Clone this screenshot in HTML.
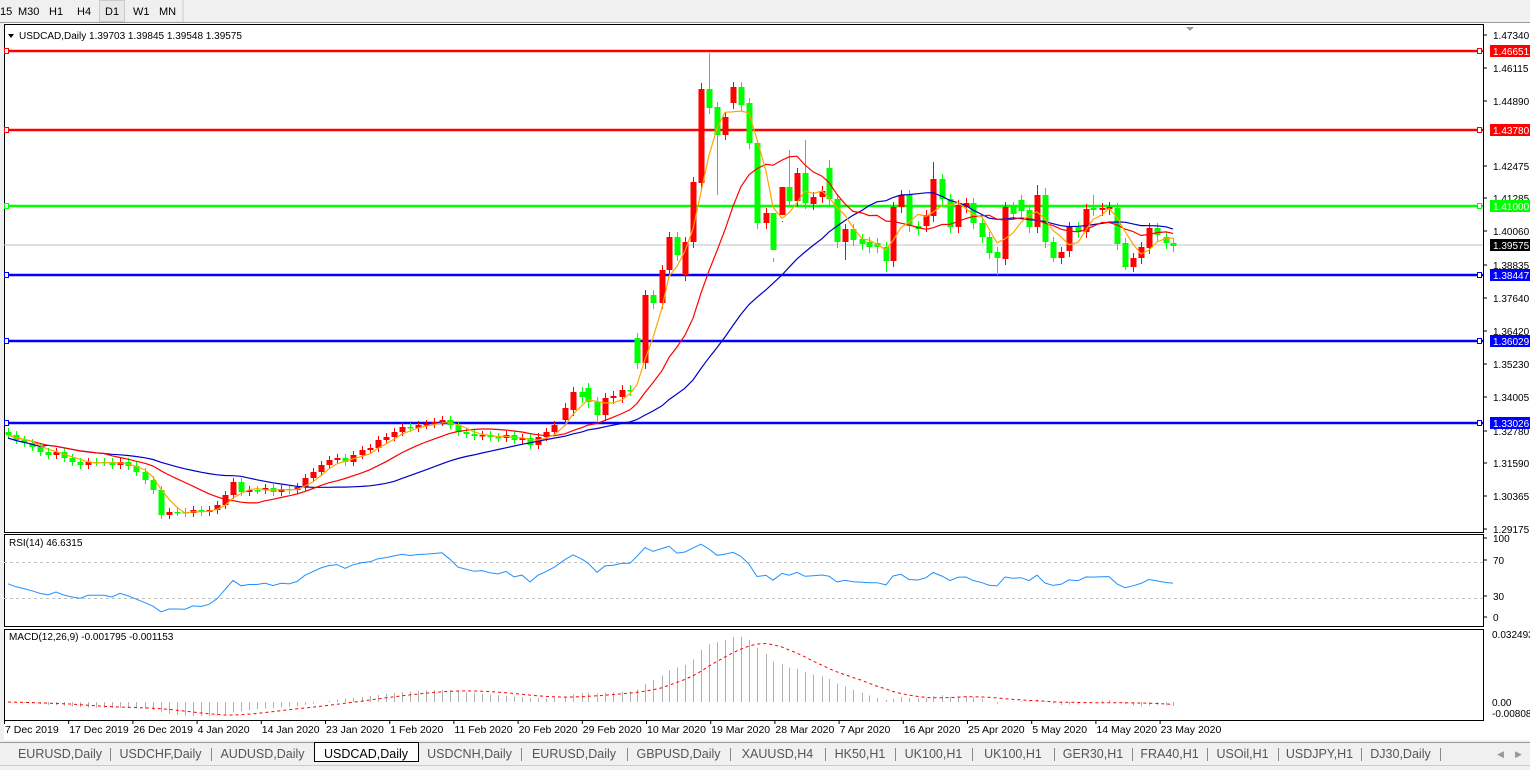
<!DOCTYPE html>
<html><head><meta charset="utf-8"><style>
body{margin:0;width:1530px;height:770px;overflow:hidden;background:#f0f0f0;font-family:"Liberation Sans",sans-serif;}
svg{position:absolute;left:0;top:0}
</style></head><body>
<svg id="s" width="1530" height="770" xmlns="http://www.w3.org/2000/svg" font-family="Liberation Sans, sans-serif" font-size="11">
<rect x="0" y="0" width="1530" height="770" fill="#f0f0f0"/>
<rect x="4" y="23" width="1526" height="717" fill="#fff"/>
<g font-size="11" fill="#000">
<text x="0" y="15">15</text><text x="18" y="15">M30</text><text x="49" y="15">H1</text><text x="77" y="15">H4</text>
<rect x="99.5" y="0.5" width="25" height="21" fill="#e8e8e8" stroke="#ccc"/><text x="105" y="15">D1</text>
<text x="133" y="15">W1</text><text x="159" y="15">MN</text>
<line x1="183" y1="0" x2="183" y2="22" stroke="#ccc"/>
</g>
<line x1="0" y1="22.5" x2="1530" y2="22.5" stroke="#999"/>
<g id="g"></g>
</svg>
<script>
var NS="http://www.w3.org/2000/svg",G=document.getElementById("g");
function el(t,a,txt){var e=document.createElementNS(NS,t);for(var k in a)e.setAttribute(k,a[k]);if(txt!==undefined)e.textContent=txt;G.appendChild(e);return e;}
var R=1483;
[[4,24,532],[4,534,626],[4,629,720]].forEach(function(p){el("rect",{x:p[0]+.5,y:p[1]+.5,width:R-p[0],height:p[2]-p[1],fill:"none",stroke:"#000"});});
var early=[[8,435],[16,440],[24,443],[32,447],[40,452],[48,455],[56,452],[64,458],[72,462],[80,465],[88,462],[96,462],[104,462],[112,465],[120,462],[128,466],[136,472],[145,480],[153,490],[161,515],[169,512],[177,512],[185,513],[193,510],[201,512],[209,510],[217,505],[225,495],[233,482],[241,492],[249,490],[257,490],[265,488],[273,492],[281,489],[289,490],[297,487],[305,478],[313,472],[321,465],[329,460],[337,458],[345,462],[353,455],[362,450],[370,448],[378,440],[386,437],[394,432],[402,427],[410,428],[418,425],[426,424],[434,422],[442,420],[450,425],[458,432],[466,434],[474,436],[482,435],[490,437],[498,438],[506,435],[514,440],[522,438],[530,445],[538,437],[546,432],[554,425]];
var C=[];var prev=432;
early.forEach(function(e){C.push([e[0],prev,e[1],Math.min(prev,e[1])-4,Math.max(prev,e[1])+4]);prev=e[1];});
var M=[[565,420,408],[573,410,392],[582,392,397],[588,388,402],[597,402,415],[605,415,398],[613,398,396],[622,397,390],[630,390,390],[637,338,363],[645,363,295],[653,295,303],[662,303,270],[669,270,237],[677,237,255],[685,275,242],[693,242,182],[701,183,89],[709,89,108],[717,107,135],[725,135,117],[733,103,87],[741,87,105],[749,103,143],[757,143,223],[766,223,213],[773,213,250],[782,215,187],[789,187,201],[797,201,173],[805,173,203],[813,204,197],[822,197,191],[829,168,199],[837,199,242],[845,242,229],[853,229,240],[862,239,244],[869,242,247],[877,243,247],[886,247,261],[893,261,207],[901,207,195],[909,195,226],[918,226,229],[926,226,215],[933,216,179],[942,179,199],[950,199,227],[958,227,205],[966,207,203],[973,203,223],[982,223,237],[989,237,253],[997,252,258],[1005,259,207],[1013,207,214],[1021,200,211],[1029,210,227],[1037,227,195],[1045,195,242],[1053,242,258],[1061,258,252],[1069,251,227],[1078,227,232],[1086,232,209],[1093,208,210],[1102,210,208],[1109,209,207],[1117,208,244],[1125,243,267],[1133,267,258],[1141,258,247],[1149,248,228],[1157,228,235],[1166,237,243],[1173,243,246]];
var HW={709:53,701:83,757:140,789:150,805:140,773:258,782:222,829:160,933:162,1037:185,1093:195,1045:188};
var LW={717:195,725:140,773:262,845:260,886:272,997:275,1125:270,1133:272,1053:262};
M.forEach(function(m){var hi=HW[m[0]]||Math.min(m[1],m[2])-5,lo=LW[m[0]]||Math.max(m[1],m[2])+6;C.push([m[0],m[1],m[2],hi,lo]);});
function hl(y,c,w){el("line",{x1:4,y1:y,x2:R,y2:y,stroke:c,"stroke-width":w});}
hl(245,"#c0c0c0",1);
[[51,"#f00"],[130,"#f00"],[206,"#0f0"],[275,"#00f"],[341,"#00f"],[423,"#00f"]].forEach(function(l){hl(l[0],l[1],2.5);el("rect",{x:4.5,y:l[0]-2.5,width:4,height:5,fill:"#fff",stroke:l[1]});el("rect",{x:R-5.5,y:l[0]-2.5,width:4,height:5,fill:"#fff",stroke:l[1]});});
C.forEach(function(c){var x=c[0],o=c[1],cl=c[2];var col=cl<o?"#f00":"#0f0";
el("line",{x1:x+.5,y1:c[3],x2:x+.5,y2:c[4],stroke:col,"stroke-width":1});
var t=Math.min(o,cl),h=Math.max(Math.abs(o-cl),1.5);el("rect",{x:x-2.5,y:t,width:6,height:h,fill:col});});
var ys=C.map(function(c){return c[2];}),xs=C.map(function(c){return c[0];});
function sma(n){return ys.map(function(v,i){var s=0,k=0;for(var j=Math.max(0,i-n+1);j<=i;j++){s+=ys[j];k++;}return s/k;});}
function poly(xa,ya,col,w,extra){var p=xa.map(function(x,i){return x+","+ya[i].toFixed(1);}).join(" ");var a={points:p,fill:"none",stroke:col,"stroke-width":w};for(var k in extra)a[k]=extra[k];el("polyline",a);}
var m30=sma(30).map(function(v,i){return i<5?v+3:v;});
poly(xs,m30,"#0000c8",1.2);poly(xs,sma(13),"#f00",1.2);poly(xs,sma(4),"#ffa500",1.2);
var rs=[];var ag=2.2,al=2.6,n=14;
for(var i=0;i<ys.length;i++){var d=i?ys[i-1]-ys[i]:0;var g=Math.max(d,0),l=Math.max(-d,0);if(i>0){ag=(ag*(n-1)+g)/n;al=(al*(n-1)+l)/n;}rs.push(100-100/(1+ag/al));}
el("line",{x1:4,y1:562.5,x2:R,y2:562.5,stroke:"#c0c0c0","stroke-dasharray":"3,3"});
el("line",{x1:4,y1:598.5,x2:R,y2:598.5,stroke:"#c0c0c0","stroke-dasharray":"3,3"});
poly(xs,rs.map(function(v){return 625-v*0.9;}),"#1e90ff",1);
var p=ys.map(function(v){return -v;});function ema(a,k){var o=[],e=a[0],al=2/(k+1);a.forEach(function(v){e=e+al*(v-e);o.push(e);});return o;}
var e12=ema(p,12),e26=ema(p,26);var md=e12.map(function(v,i){return v-e26[i];});
var sg=md.map(function(v,i){var s=0,k=0;for(var j=Math.max(0,i-8);j<=i;j++){s+=md[j];k++;}return s/k;});
var sc=69/88;
md.forEach(function(v,i){el("line",{x1:xs[i]+.5,y1:702,x2:xs[i]+.5,y2:702-v*sc,stroke:"#b0b0b0","stroke-width":1});});
poly(xs,sg.map(function(v){return 702-v*sc;}),"#f00",1,{"stroke-dasharray":"3,3"});
el("path",{d:"M8 34 L14 34 L11 38 Z",fill:"#000"});
el("text",{x:19,y:39,"font-size":"10"},"USDCAD,Daily  1.39703 1.39845 1.39548 1.39575");
el("text",{x:9,y:546,"font-size":"10"},"RSI(14) 46.6315");
el("text",{x:9,y:640,"font-size":"10"},"MACD(12,26,9) -0.001795 -0.001153");
el("path",{d:"M1186 27 L1194 27 L1190 31 Z",fill:"#999"});
[["1.47340",35],["1.46115",68],["1.44890",101],["1.42475",166],["1.41285",198],["1.40060",231],["1.38835",265],["1.37640",298],["1.36420",331],["1.35230",364],["1.34005",397],["1.32780",431],["1.31590",463],["1.30365",496],["1.29175",529]].forEach(function(t){el("line",{x1:R,y1:t[1],x2:R+4,y2:t[1],stroke:"#000"});el("text",{x:1493,y:t[1]+4,"font-size":"10"},t[0]);});
[["1.46651",51,"#f00","#fff"],["1.43780",130,"#f00","#fff"],["1.41000",206,"#0f0","#fff"],["1.39575",245,"#000","#fff"],["1.38447",275,"#00f","#fff"],["1.36029",341,"#00f","#fff"],["1.33026",423,"#00f","#fff"]].forEach(function(t){el("rect",{x:1490,y:t[1]-6,width:40,height:12,fill:t[2]});el("text",{x:1493,y:t[1]+4,"font-size":"10",fill:t[3]},t[0]);});
[["100",541],["70",563],["30",599],["0",620]].forEach(function(t){el("line",{x1:R,y1:t[1]-3,x2:R+4,y2:t[1]-3,stroke:"#000"});el("text",{x:1493,y:t[1]+1,"font-size":"10"},t[0]);});
[["0.032493",638],["0.00",706],["-0.00808",717]].forEach(function(t){el("text",{x:1492,y:t[1],"font-size":"10"},t[0]);});
var D=["7 Dec 2019","17 Dec 2019","26 Dec 2019","4 Jan 2020","14 Jan 2020","23 Jan 2020","1 Feb 2020","11 Feb 2020","20 Feb 2020","29 Feb 2020","10 Mar 2020","19 Mar 2020","28 Mar 2020","7 Apr 2020","16 Apr 2020","25 Apr 2020","5 May 2020","14 May 2020","23 May 2020"];
D.forEach(function(d,i){var x=4+i*64.2;el("line",{x1:x+.5,y1:720,x2:x+.5,y2:724,stroke:"#000"});el("text",{x:x+1,y:733,"font-size":"10.5"},d);});
el("rect",{x:0,y:741,width:1530,height:29,fill:"#f0f0f0"});
el("line",{x1:0,y1:742.5,x2:1530,y2:742.5,stroke:"#999"});
var T=[["EURUSD,Daily",10,110],["USDCHF,Daily",110,211],["AUDUSD,Daily",211,314],["USDCAD,Daily",314,418],["USDCNH,Daily",418,521],["EURUSD,Daily",521,627],["GBPUSD,Daily",627,730],["XAUUSD,H4",730,825],["HK50,H1",825,895],["UK100,H1",895,972],["UK100,H1",972,1054],["GER30,H1",1054,1132],["FRA40,H1",1132,1207],["USOil,H1",1207,1278],["USDJPY,H1",1278,1361],["DJ30,Daily",1361,1440]];
T.forEach(function(t,i){if(i==3){el("rect",{x:t[1]+.5,y:742.5,width:t[2]-t[1],height:19,fill:"#fff",stroke:"#000"});}else{el("line",{x1:t[2]+.5,y1:748,x2:t[2]+.5,y2:761,stroke:"#888"});}
el("text",{x:t[1]+(t[2]-t[1])/2,y:758,"font-size":"12.5","text-anchor":"middle",fill:i==3?"#000":"#555"},t[0]);});
el("text",{x:1497,y:757,"font-size":"9",fill:"#999"},"◀");el("text",{x:1515,y:757,"font-size":"9",fill:"#999"},"▶");
el("line",{x1:0,y1:765.5,x2:1530,y2:765.5,stroke:"#ccc"});
</script>
</body></html>
